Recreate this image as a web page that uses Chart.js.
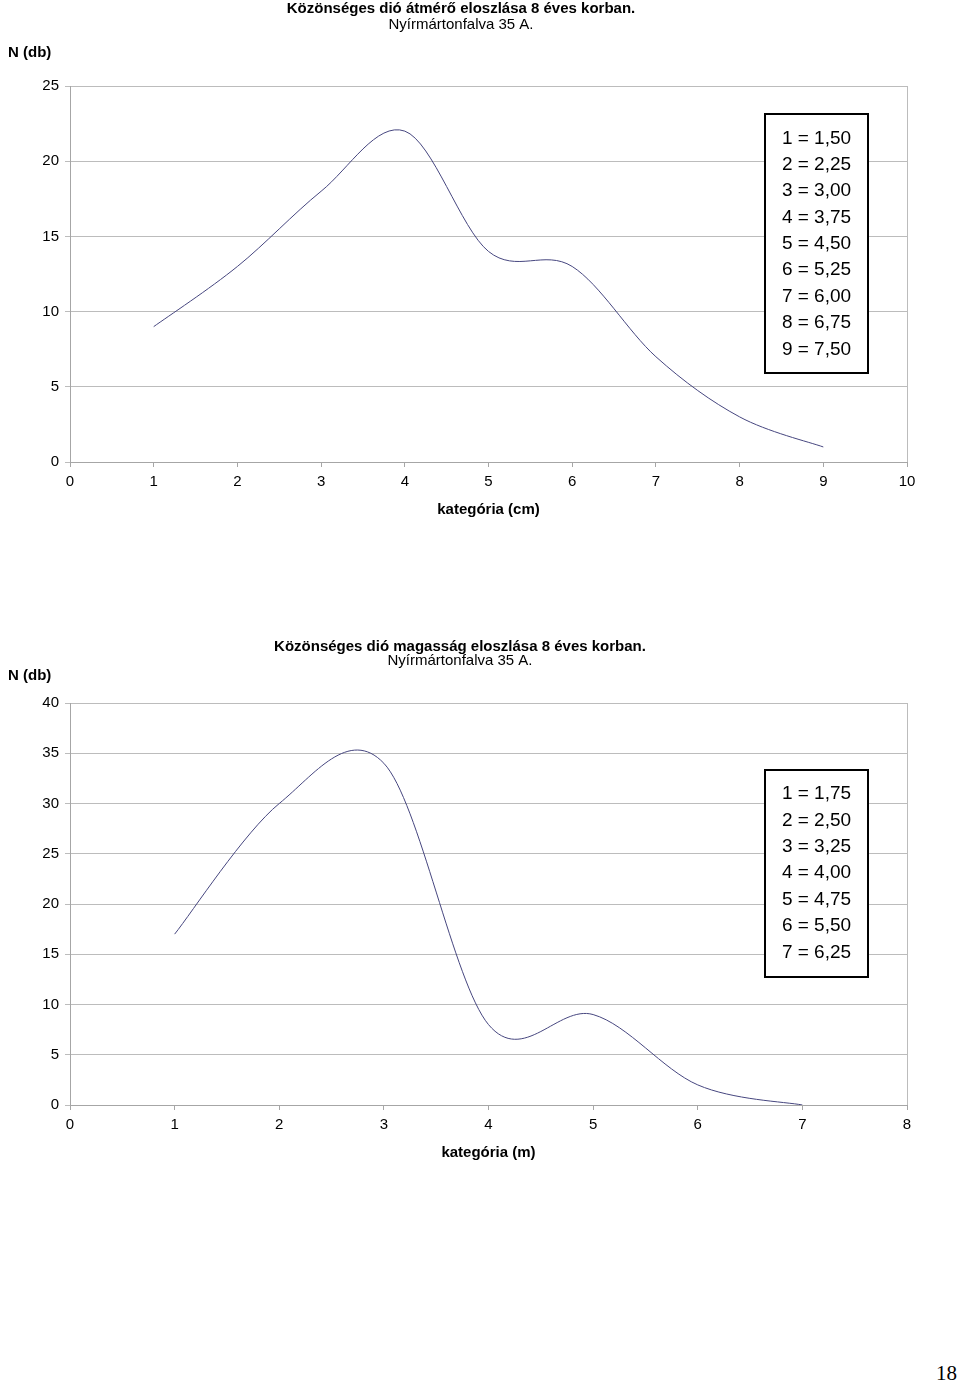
<!DOCTYPE html>
<html><head><meta charset="utf-8">
<script src="https://cdn.jsdelivr.net/npm/chart.js@4/dist/chart.umd.min.js"></script>
<style>
html,body{margin:0;padding:0;background:#fff;}
body{width:960px;height:1385px;position:relative;overflow:hidden;font-family:"Liberation Sans",Arial,sans-serif;}
.wrap{position:absolute;left:0;width:960px;}
#pg{position:absolute;left:936px;top:1360px;font-family:"Liberation Serif","Times New Roman",serif;font-size:21px;line-height:26px;color:#000;}
</style></head>
<body>
<div class="wrap" style="top:0;height:530px"><canvas id="c1" width="960" height="530"></canvas></div>
<div class="wrap" style="top:620px;height:560px"><canvas id="c2" width="960" height="560"></canvas></div>
<div id="pg">18</div>
<script>
// ---- data ----
const diameterTitle = 'Közönséges dió átmérő eloszlása 8 éves korban.';
const diameterSubtitle = 'Nyírmártonfalva 35 A.';
const diameterAxisTitle = 'kategória (cm)';
const diameterCategories = [1, 2, 3, 4, 5, 6, 7, 8, 9];
const diameterCounts = [9, 13, 18, 22, 14, 13, 7, 3, 1];
const diameterKey = ['1 = 1,50', '2 = 2,25', '3 = 3,00', '4 = 3,75', '5 = 4,50', '6 = 5,25', '7 = 6,00', '8 = 6,75', '9 = 7,50'];

const heightTitle = 'Közönséges dió magasság eloszlása 8 éves korban.';
const heightSubtitle = 'Nyírmártonfalva 35 A.';
const heightAxisTitle = 'kategória (m)';
const heightCategories = [1, 2, 3, 4, 5, 6, 7];
const heightCounts = [17, 30, 34, 8, 9, 2, 0];
const heightKey = ['1 = 1,75', '2 = 2,50', '3 = 3,25', '4 = 4,00', '5 = 4,75', '6 = 5,50', '7 = 6,25'];

const yAxisLabel = 'N (db)';

// ---- styles ----
const FONT = '"Liberation Sans", Arial, sans-serif';
const GRID = '#bcbcbc';
const AXIS = '#a6a6a6';
const LINE = '#46467f';

// Spreadsheet-style smoothing: Bezier control points at 1/6 of the neighbour span
const smoothPlugin = {
  id: 'sheetSmooth',
  beforeDatasetsDraw(chart) {
    chart.data.datasets.forEach((ds, di) => {
      const meta = chart.getDatasetMeta(di);
      const line = meta.dataset;
      if (line && line.updateControlPoints) line.updateControlPoints(chart.chartArea, meta.indexAxis);
      const pts = meta.data;
      for (let i = 0; i < pts.length; i++) {
        const p = pts[i];
        const prev = pts[i - 1] || p;
        const next = pts[i + 1] || p;
        const dx = (next.x - prev.x) / 6;
        const dy = (next.y - prev.y) / 6;
        p.cp1x = p.x - dx; p.cp1y = p.y - dy;
        p.cp2x = p.x + dx; p.cp2y = p.y + dy;
      }
    });
  }
};

function extrasPlugin(cfg) {
  return {
    id: 'extras',
    afterDraw(chart) {
      const ctx = chart.ctx;
      const a = chart.chartArea;
      ctx.save();
      ctx.strokeStyle = GRID;
      ctx.lineWidth = 1;
      ctx.beginPath();
      ctx.moveTo(Math.round(a.right) + 0.5, a.top);
      ctx.lineTo(Math.round(a.right) + 0.5, a.bottom);
      ctx.stroke();
      ctx.fillStyle = '#000';
      ctx.textAlign = 'center';
      ctx.textBaseline = 'middle';
      ctx.font = 'bold 15px ' + FONT;
      ctx.fillText(cfg.title, cfg.titleX, cfg.titleY);
      ctx.font = '15px ' + FONT;
      ctx.fillText(cfg.subtitle, cfg.titleX, cfg.subY);
      ctx.textAlign = 'left';
      ctx.font = 'bold 15px ' + FONT;
      ctx.fillText(yAxisLabel, 8, cfg.nY);
      const b = cfg.box;
      ctx.fillStyle = '#fff';
      ctx.fillRect(b.x, b.y, b.w, b.h);
      ctx.strokeStyle = '#000';
      ctx.lineWidth = 2;
      ctx.strokeRect(b.x, b.y, b.w, b.h);
      ctx.fillStyle = '#000';
      ctx.textAlign = 'center';
      ctx.font = '19px ' + FONT;
      cfg.key.forEach((t, i) => ctx.fillText(t, b.x + b.w / 2, b.firstY + i * b.step));
      ctx.restore();
    }
  };
}

function makeChart(id, cats, vals, xmax, ymax, axisTitle, padTop, padBottom, extras) {
  return new Chart(document.getElementById(id), {
    type: 'line',
    data: {
      datasets: [{
        data: cats.map((c, i) => ({x: c, y: vals[i]})),
        borderColor: LINE,
        borderWidth: 1,
        pointRadius: 0,
        fill: false,
        tension: 0.4
      }]
    },
    options: {
      responsive: false,
      devicePixelRatio: 1,
      animation: false,
      events: [],
      layout: {padding: {left: 0, right: 53, top: padTop, bottom: padBottom}},
      plugins: {legend: {display: false}, tooltip: {enabled: false}, title: {display: false}},
      scales: {
        x: {
          type: 'linear', min: 0, max: xmax,
          ticks: {stepSize: 1, color: '#000', font: {family: FONT, size: 15}, padding: 6, maxRotation: 0},
          grid: {drawOnChartArea: false, drawTicks: true, tickLength: 5, color: AXIS},
          border: {color: AXIS},
          title: {display: true, text: axisTitle, color: '#000', font: {family: FONT, size: 15, weight: 'bold'}, padding: {top: 4, bottom: 4}},
          afterFit: s => { s.height = 61; }
        },
        y: {
          min: 0, max: ymax,
          ticks: {stepSize: 5, color: '#000', font: {family: FONT, size: 15}, padding: 6},
          grid: {color: GRID, tickLength: 5, drawTicks: true},
          border: {color: AXIS},
          afterFit: s => { s.width = 70; }
        }
      }
    },
    plugins: [smoothPlugin, extrasPlugin(extras)]
  });
}

makeChart('c1', diameterCategories, diameterCounts, 10, 25, diameterAxisTitle, 86, 7, {
  title: diameterTitle, subtitle: diameterSubtitle, titleX: 461, titleY: 8.5, subY: 25, nY: 53,
  key: diameterKey,
  box: {x: 765, y: 114, w: 103, h: 259, firstY: 138.5, step: 26.35}
});

makeChart('c2', heightCategories, heightCounts, 8, 40, heightAxisTitle, 83, 14, {
  title: heightTitle, subtitle: heightSubtitle, titleX: 460, titleY: 27, subY: 41, nY: 56,
  key: heightKey,
  box: {x: 765, y: 150, w: 103, h: 207, firstY: 174, step: 26.4}
});
</script>
</body></html>
